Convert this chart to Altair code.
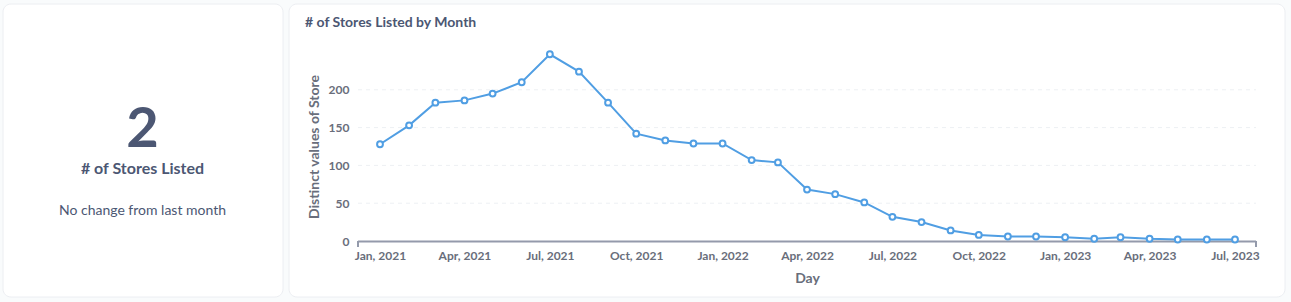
import altair as alt
import pandas as pd

# ---- data ----
months = pd.date_range("2021-01-01", "2023-07-01", freq="MS").strftime("%Y-%m-%d").tolist()
stores = [128, 153, 183, 186, 195, 210, 247, 224, 183, 142, 133, 129,
          129, 107, 104, 68, 62, 51, 32, 25, 14, 8, 6, 6,
          5, 3, 5, 3, 2, 2, 2]
tick_months = ["2021-01-01", "2021-04-01", "2021-07-01", "2021-10-01",
               "2022-01-01", "2022-04-01", "2022-07-01", "2022-10-01",
               "2023-01-01", "2023-04-01", "2023-07-01"]
y_ticks = [0, 50, 100, 150, 200]
grid_values = [50, 100, 150, 200]
scalar_value = "2"
scalar_label = "# of Stores Listed"
scalar_desc = "No change from last month"
chart_title = "# of Stores Listed by Month"
x_title = "Day"
y_title = "Distinct values of Store"

# ---- layout ----
W, H = 898, 189
PAD_L, PAD_T = 358, 52
PAD_R = 1291 - PAD_L - W
PAD_B = 302 - PAD_T - H

def ms(s):
    return int(pd.Timestamp(s, tz="UTC").value // 10**6)

x_domain = [ms("2020-12-08T13:25:00"), ms("2023-07-23T09:00:00")]
tick_vals = [ms(t) for t in tick_months]

df = pd.DataFrame({"date": months, "value": stores})
ends = pd.DataFrame({"date": [x_domain[0], x_domain[1]]})
span = pd.DataFrame({"start": [x_domain[0]], "end": [x_domain[1]]})
grid = pd.DataFrame({"value": grid_values})

DARK = "#4c5773"
MID = "#696e7b"
BLUE = "#509ee3"
AXIS = "#949aab"
FONT = "Lato"

one = alt.Data(values=[{"k": 1}])

left_card = alt.Chart(one).mark_rect(
    fill="white", stroke="#eceef2", strokeWidth=1, cornerRadius=8
).encode(x=alt.value(3 - PAD_L), x2=alt.value(283 - PAD_L),
         y=alt.value(4 - PAD_T), y2=alt.value(297 - PAD_T))

right_card = alt.Chart(one).mark_rect(
    fill="white", stroke="#eceef2", strokeWidth=1, cornerRadius=8
).encode(x=alt.value(289 - PAD_L), x2=alt.value(1285 - PAD_L),
         y=alt.value(4 - PAD_T), y2=alt.value(297 - PAD_T))

x_scale = alt.Scale(type="utc", domain=x_domain)
y_scale = alt.Scale(domain=[0, 250], nice=False)

gridlines = alt.Chart(grid).mark_rule(
    color="#edf0f3", strokeWidth=1, strokeDash=[4, 4]
).encode(y=alt.Y("value:Q", scale=y_scale), x=alt.value(0), x2=alt.value(W))

end_ticks = alt.Chart(ends).mark_rule(color=AXIS, strokeWidth=2).encode(
    x=alt.X("date:T", scale=x_scale), y=alt.value(H), y2=alt.value(H + 6))

domain_line = alt.Chart(span).mark_rule(color=AXIS, strokeWidth=2).encode(
    x=alt.X("start:T", scale=x_scale), x2="end:T", y=alt.value(H + 0.5))

base = alt.Chart(df).encode(
    x=alt.X("date:T", scale=x_scale,
            axis=alt.Axis(values=tick_vals, format="%b, %Y", title=x_title,
                          ticks=False, tickSize=0, grid=False, domain=False,
                          labelFont=FONT, labelFontSize=12, labelFontWeight="bold",
                          labelColor=MID, labelPadding=9, labelOverlap=False,
                          labelFlush=False,
                          titleFont=FONT, titleFontSize=14, titleFontWeight="bold",
                          titleColor=MID, titleBaseline="alphabetic", titleY=41.5,
                          zindex=1)),
    y=alt.Y("value:Q", scale=y_scale,
            axis=alt.Axis(values=y_ticks, title=y_title, ticks=False, tickSize=0,
                          grid=False, domain=False,
                          labelFont=FONT, labelFontSize=12, labelFontWeight="bold",
                          labelColor=MID, labelPadding=9,
                          titleFont=FONT, titleFontSize=14, titleFontWeight="bold",
                          titleColor=MID, titlePadding=7, zindex=1)),
)

line = base.mark_line(color=BLUE, strokeWidth=2)
points = base.mark_point(shape="circle", filled=True, fill="white", stroke=BLUE,
                         strokeWidth=2, size=34, opacity=1)

def txt(s, x, y, size, weight, color, align="center"):
    return alt.Chart(alt.Data(values=[{"t": s}])).mark_text(
        font=FONT, fontSize=size, fontWeight=weight, color=color,
        align=align, baseline="alphabetic"
    ).encode(text="t:N", x=alt.value(x), y=alt.value(y))

t_value = txt(scalar_value, 142.5 - PAD_L, 147 - PAD_T, 56, "bold", DARK)
t_label = txt(scalar_label, 142.5 - PAD_L, 174 - PAD_T, 16, "bold", DARK)
t_desc = txt(scalar_desc, 142.5 - PAD_L, 215 - PAD_T, 14, "normal", DARK)
t_title = txt(chart_title, 305 - PAD_L, 27 - PAD_T, 14, "bold", DARK, align="left")

chart = alt.layer(
    left_card, right_card, gridlines, domain_line, end_ticks, line, points,
    t_value, t_label, t_desc, t_title
).properties(
    width=W, height=H, autosize="none", background="#f9fbfc",
    padding={"left": PAD_L, "top": PAD_T, "right": PAD_R, "bottom": PAD_B},
).configure_view(stroke=None)

chart.save("out.html", embed_options={"renderer": "svg", "actions": False})
